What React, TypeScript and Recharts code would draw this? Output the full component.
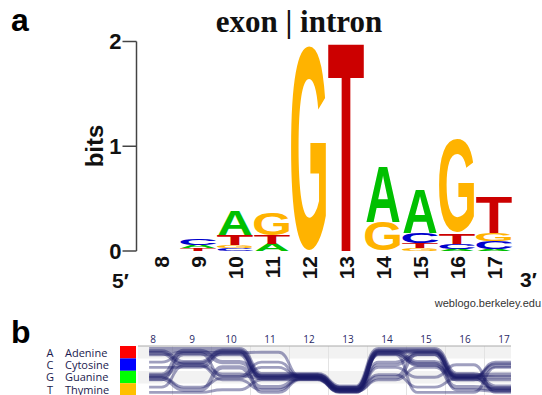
import React from 'react';
import { BarChart, Bar, XAxis, YAxis, LineChart, Line, ReferenceArea, ReferenceLine } from 'recharts';

// ---------- Panel a: sequence logo (bits per base at each position) ----------
const positions = [8, 9, 10, 11, 12, 13, 14, 15, 16, 17];
const bitsA = [0, 0.03, 0.23, 0.07, 0, 0, 0.52, 0.41, 0.02, 0.02];
const bitsC = [0, 0.06, 0.025, 0, 0, 0, 0, 0.095, 0.05, 0.07];
const bitsG = [0, 0, 0.03, 0.22, 1.96, 0, 0.28, 0.03, 0.9, 0.08];
const bitsT = [0, 0.025, 0.095, 0.08, 0, 1.97, 0, 0.045, 0.1, 0.34];
const bitTicks = [0, 1, 2];

// ---------- Panel b: aligned sequences (positions 8..17) and their counts ----------
const baseLetters = ['A', 'C', 'G', 'T'];
const baseNames = ['Adenine', 'Cytosine', 'Guanine', 'Thymine'];
const strandSeqs = [
  'AAAGGTAAGT',
  'ACAGGTAAGG',
  'GACGGTACGT',
  'GCAGGTAAGG',
  'ACGGGTACTT',
  'AAAAGTCAGC',
  'CAGCGTACGC',
  'GTGCGTGTGT',
  'GTCTGTGAGC',
  'TCGTGTCATT',
  'CCAGGTGCGG',
  'GAATGTCGCT',
  'TTTGGTATTC',
];
const strandCounts = [3, 2, 2, 2, 2, 1, 1, 1, 2, 1, 1, 1, 1];

const LOGO_COLORS: Record<string, string> = { A: '#00c000', C: '#0000cc', G: '#ffb300', T: '#cc0000' };
const LEGEND_COLORS = ['#ff0000', '#0000ff', '#00ff00', '#ffc000'];
const NAVY = '#1a1a66';

const bitsByBase: Record<string, number[]> = { A: bitsA, C: bitsC, G: bitsG, T: bitsT };

const logoData = positions.map((p, i) => {
  const cells = baseLetters
    .map((b) => ({ b, v: bitsByBase[b][i] }))
    .sort((a, c) => a.v - c.v);
  const row: any = { pos: String(p) };
  cells.forEach((c, k) => {
    row['v' + k] = c.v;
    row['l' + k] = c.b;
  });
  return row;
});

// ink metrics of Liberation Sans Bold capitals (fractions of the em)
const GLYPH: Record<string, { w: number; top: number; bot: number }> = {
  A: { w: 0.71, top: 0.688, bot: 0 },
  C: { w: 0.64, top: 0.701, bot: 0.013 },
  G: { w: 0.68, top: 0.701, bot: 0.013 },
  T: { w: 0.58, top: 0.688, bot: 0 },
};

function Glyph(props: any) {
  const { x, y, width, height, payload, layer } = props;
  const letter = payload ? payload['l' + layer] : null;
  if (!letter || !(height > 0.3)) return <g />;
  const m = GLYPH[letter];
  const F = 100;
  const sx = width / (m.w * F);
  const sy = height / ((m.top + m.bot) * F);
  const by = y + height - m.bot * F * sy;
  return (
    <text
      transform={`translate(${x + width / 2},${by}) scale(${sx},${sy})`}
      textAnchor="middle"
      fontFamily="Liberation Sans, Arial, sans-serif"
      fontWeight="bold"
      fontSize={F}
      fill={LOGO_COLORS[letter]}
    >
      {letter}
    </text>
  );
}

const LogoXTick = (props: any) => {
  const { x, y, payload } = props;
  return (
    <text
      transform={`translate(${x + 7.5},${y}) rotate(-90)`}
      textAnchor="end"
      fontFamily="Liberation Sans, Arial, sans-serif"
      fontWeight="bold"
      fontSize={21}
      fill="#111"
    >
      {payload.value}
    </text>
  );
};

const LogoYTick = (props: any) => {
  const { x, y, payload } = props;
  return (
    <text
      x={x}
      y={y}
      textAnchor="end"
      dominantBaseline="central"
      fontFamily="Liberation Sans, Arial, sans-serif"
      fontWeight="bold"
      fontSize={22}
      fill="#111"
    >
      {payload.value}
    </text>
  );
};

// ---------- flow table for panel b ----------
const rowOf: Record<string, number> = { A: 0, C: 1, G: 2, T: 3 };
// value of each strand at each position: row index plus a small lane offset within the row
const strandY = strandSeqs.map((seq, si) =>
  positions.map((_, k) => {
    const letter = seq[k];
    const sameRow = strandSeqs
      .map((s, j) => ({ j, l: s[k] }))
      .filter((o) => o.l === letter)
      .map((o) => o.j);
    const n = sameRow.length;
    const rank = sameRow.indexOf(si);
    const off = n > 1 ? (rank / (n - 1) - 0.5) * 0.42 : 0;
    return rowOf[letter] + off;
  })
);

const flowData: any[] = [];
const pushFlow = (x: number, k: number) => {
  const row: any = { x };
  strandSeqs.forEach((_, i) => {
    row['s' + i] = strandY[i][k];
  });
  flowData.push(row);
};
positions.forEach((p, k) => {
  pushFlow(k === 0 ? p - 0.1 : p - 0.22, k);
  pushFlow(k === positions.length - 1 ? p + 0.18 : p + 0.22, k);
});

const FlowXTick = (props: any) => {
  const { x, payload } = props;
  return (
    <text x={x} y={23} textAnchor="middle" fontFamily="Open Sans, sans-serif" fontSize={10} fill="#2a2a66">
      {payload.value}
    </text>
  );
};

const FLOW_MIN = 7.615;
const FLOW_MAX = 17.18;

export default function App() {
  return (
    <div style={{ position: 'absolute', left: 0, top: 0, width: 542, height: 395, overflow: 'hidden', background: '#fff' }}>
      {/* Panel a */}
      <div style={{ position: 'absolute', left: 0, top: 0 }}>
        <BarChart
          width={542}
          height={300}
          data={logoData}
          margin={{ top: 41.5, right: 29.5, bottom: 0, left: 0 }}
          barSize={35}
        >
          <XAxis
            dataKey="pos"
            type="category"
            axisLine={false}
            tickLine={false}
            tickSize={0}
            tickMargin={5}
            height={49}
            padding={{ left: 6, right: 0 }}
            interval={0}
            tick={<LogoXTick />}
          />
          <YAxis
            type="number"
            domain={[0, 2]}
            ticks={bitTicks}
            width={136.5}
            tickSize={14}
            tickMargin={1}
            axisLine={{ stroke: '#444', strokeWidth: 1.5 }}
            tickLine={{ stroke: '#444', strokeWidth: 1.5 }}
            tick={<LogoYTick />}
          />
          {[0, 1, 2, 3].map((layer) => (
            <Bar
              key={layer}
              dataKey={'v' + layer}
              stackId="logo"
              isAnimationActive={false}
              shape={(p: any) => <Glyph {...p} layer={layer} />}
            />
          ))}
        </BarChart>
      </div>

      {/* Panel b */}
      <div style={{ position: 'absolute', left: 0, top: 320 }}>
        <LineChart width={542} height={76} data={flowData} margin={{ top: 0, right: 31, bottom: 0, left: 138 }}>
          <XAxis
            dataKey="x"
            type="number"
            orientation="top"
            domain={[FLOW_MIN, FLOW_MAX]}
            ticks={positions}
            allowDataOverflow
            height={26}
            axisLine={{ stroke: '#aaa' }}
            tickLine={false}
            tick={<FlowXTick />}
          />
          <YAxis type="number" hide reversed domain={[-0.5, 3.5]} />
          <ReferenceArea x1={FLOW_MIN} x2={FLOW_MAX} y1={-0.5} y2={0.5} fill="#f2f2f2" fillOpacity={1} stroke="none" />
          <ReferenceArea x1={FLOW_MIN} x2={FLOW_MAX} y1={1.5} y2={2.5} fill="#f2f2f2" fillOpacity={1} stroke="none" />
          {positions.slice(0, -1).map((p) => (
            <ReferenceLine key={p} x={p + 0.5} stroke="#e3e3e3" strokeWidth={1} />
          ))}
          {strandSeqs.map((_, i) => (
            <Line
              key={i}
              dataKey={'s' + i}
              type="bumpX"
              dot={false}
              activeDot={false}
              stroke={NAVY}
              strokeOpacity={0.42}
              strokeWidth={1.6 + 1.3 * strandCounts[i]}
              isAnimationActive={false}
            />
          ))}
        </LineChart>
      </div>

      {/* Text overlay */}
      <svg width={542} height={395} style={{ position: 'absolute', left: 0, top: 0, pointerEvents: 'none' }}>
        <text x={11} y={31} fontFamily="Liberation Sans, Arial, sans-serif" fontWeight="bold" fontSize={32} fill="#000">a</text>
        <text x={299} y={32} textAnchor="middle" fontFamily="Liberation Serif, serif" fontWeight="bold" fontSize={31} fill="#111">exon | intron</text>
        <text transform="translate(103,146) rotate(-90)" textAnchor="middle" fontFamily="Liberation Sans, Arial, sans-serif" fontWeight="bold" fontSize={24} fill="#111">bits</text>
        <text x={112} y={288} fontFamily="Liberation Sans, Arial, sans-serif" fontWeight="bold" fontSize={21} fill="#111">5′</text>
        <text x={520} y={287} fontFamily="Liberation Sans, Arial, sans-serif" fontWeight="bold" fontSize={21} fill="#111">3′</text>
        <text x={541} y={307} textAnchor="end" fontFamily="Liberation Sans, Arial, sans-serif" fontSize={11} fill="#333">weblogo.berkeley.edu</text>

        <text x={11} y={343} fontFamily="Liberation Sans, Arial, sans-serif" fontWeight="bold" fontSize={32} fill="#000">b</text>
        {baseLetters.map((b, i) => (
          <g key={b}>
            <text x={50} y={352 + i * 12.4} textAnchor="middle" dominantBaseline="central" fontFamily="Open Sans, sans-serif" fontSize={11} fill="#1a1a4e">{b}</text>
            <text x={65} y={352 + i * 12.4} dominantBaseline="central" fontFamily="Open Sans, sans-serif" fontSize={11} fill="#1a1a4e">{baseNames[i]}</text>
            <rect x={120} y={346 + i * 12.4} width={16} height={12.4} fill={LEGEND_COLORS[i]} />
          </g>
        ))}
      </svg>
    </div>
  );
}
